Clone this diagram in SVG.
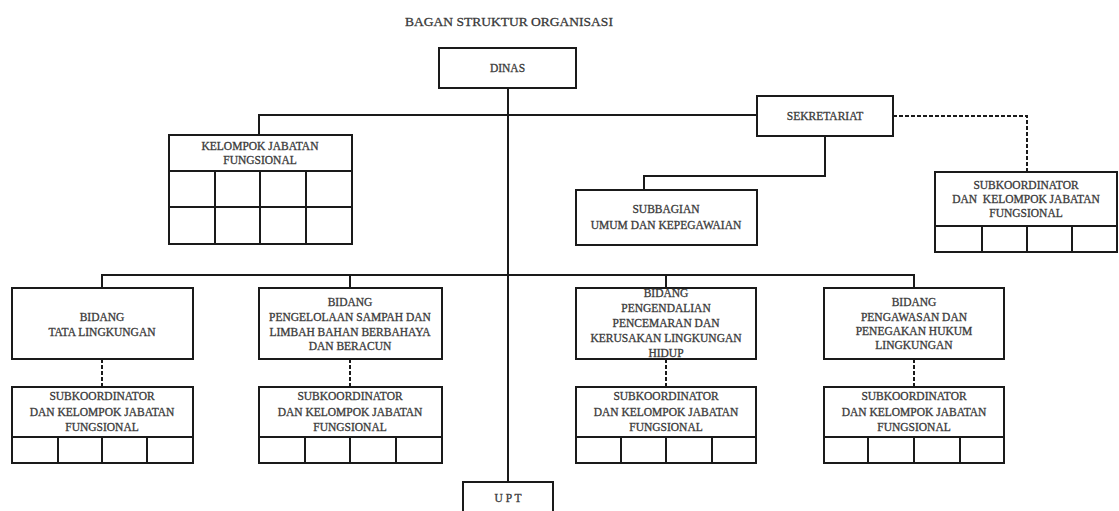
<svg xmlns="http://www.w3.org/2000/svg" width="1119" height="511" viewBox="0 0 1119 511">
<style>
.bg{fill:#ffffff}
.box{fill:#ffffff;stroke:#1a1a1a;stroke-width:2}
.ln{fill:none;stroke:#1a1a1a;stroke-width:2}
.ds{fill:none;stroke:#1a1a1a;stroke-width:2;stroke-dasharray:4 2}
.t{font-family:"Liberation Serif","Times New Roman",serif;font-size:11.5px;fill:#333;stroke:#444;stroke-width:0.3;text-anchor:middle;dominant-baseline:central}
.title{font-family:"Liberation Serif","Times New Roman",serif;font-size:13.5px;fill:#333;stroke:#444;stroke-width:0.3;text-anchor:middle;dominant-baseline:central}
</style>
<rect class="bg" x="0" y="0" width="1119" height="511"/>
<text class="title" x="509" y="21">BAGAN STRUKTUR ORGANISASI</text>

<g id="connectors">
<path class="ln" d="M508 88 V482"/>
<path class="ln" d="M259 135 V115 H757"/>
<path class="ln" d="M825 136 V176 H644 V190"/>
<path class="ds" d="M893 116 H1027 V172"/>
<path class="ln" d="M102 288 V275 H914 V288"/>
<path class="ln" d="M350 275 V288"/>
<path class="ln" d="M666 275 V288"/>
<path class="ds" d="M102 359 V387"/>
<path class="ds" d="M350 359 V387"/>
<path class="ds" d="M666 359 V387"/>
<path class="ds" d="M914 359 V387"/>
</g>

<g id="dinas">
<rect class="box" x="439" y="48" width="137" height="40"/>
<text class="t" x="507.5" y="68">DINAS</text>
</g>

<g id="kelompok-jabatan-fungsional">
<rect class="box" x="169" y="135" width="183" height="109"/>
<path class="ln" d="M169 171 H352 M169 207 H352 M215 171 V244 M260 171 V244 M306 171 V244"/>
<text class="t" x="260" y="146">KELOMPOK JABATAN</text>
<text class="t" x="260" y="160">FUNGSIONAL</text>
</g>

<g id="sekretariat">
<rect class="box" x="757" y="96" width="136" height="40"/>
<text class="t" x="825" y="116">SEKRETARIAT</text>
</g>

<g id="subbagian">
<rect class="box" x="576" y="190" width="181" height="55"/>
<text class="t" x="666" y="209">SUBBAGIAN</text>
<text class="t" x="666" y="225">UMUM DAN KEPEGAWAIAN</text>
</g>

<g id="subkoordinator-sekretariat">
<rect class="box" x="935" y="172" width="182" height="80"/>
<path class="ln" d="M935 226 H1117 M982 226 V252 M1027 226 V252 M1072 226 V252"/>
<text class="t" x="1026" y="185">SUBKOORDINATOR</text>
<text class="t" x="1026" y="199" xml:space="preserve">DAN  KELOMPOK JABATAN</text>
<text class="t" x="1026" y="213">FUNGSIONAL</text>
</g>

<g id="bidang-tata-lingkungan">
<rect class="box" x="12" y="288" width="181" height="71"/>
<text class="t" x="102" y="317">BIDANG</text>
<text class="t" x="102" y="332">TATA LINGKUNGAN</text>
</g>

<g id="bidang-pengelolaan-sampah">
<rect class="box" x="259" y="288" width="183" height="71"/>
<text class="t" x="350" y="302">BIDANG</text>
<text class="t" x="350" y="317">PENGELOLAAN SAMPAH DAN</text>
<text class="t" x="350" y="332">LIMBAH BAHAN BERBAHAYA</text>
<text class="t" x="350" y="346">DAN BERACUN</text>
</g>

<g id="bidang-pengendalian-pencemaran">
<rect class="box" x="576" y="288" width="180" height="71"/>
<text class="t" x="666" y="293">BIDANG</text>
<text class="t" x="666" y="308">PENGENDALIAN</text>
<text class="t" x="666" y="323">PENCEMARAN DAN</text>
<text class="t" x="666" y="338">KERUSAKAN LINGKUNGAN</text>
<text class="t" x="666" y="353">HIDUP</text>
</g>

<g id="bidang-pengawasan">
<rect class="box" x="824" y="288" width="180" height="71"/>
<text class="t" x="914" y="302">BIDANG</text>
<text class="t" x="914" y="317">PENGAWASAN DAN</text>
<text class="t" x="914" y="331">PENEGAKAN HUKUM</text>
<text class="t" x="914" y="345">LINGKUNGAN</text>
</g>

<g id="subkoordinator-1">
<rect class="box" x="12" y="387" width="181" height="76"/>
<path class="ln" d="M12 437 H193 M58 437 V463 M102 437 V463 M147 437 V463"/>
<text class="t" x="102" y="396">SUBKOORDINATOR</text>
<text class="t" x="102" y="412">DAN KELOMPOK JABATAN</text>
<text class="t" x="102" y="427">FUNGSIONAL</text>
</g>

<g id="subkoordinator-2">
<rect class="box" x="259" y="387" width="183" height="76"/>
<path class="ln" d="M259 437 H442 M305 437 V463 M350 437 V463 M396 437 V463"/>
<text class="t" x="350" y="396">SUBKOORDINATOR</text>
<text class="t" x="350" y="412">DAN KELOMPOK JABATAN</text>
<text class="t" x="350" y="427">FUNGSIONAL</text>
</g>

<g id="subkoordinator-3">
<rect class="box" x="576" y="387" width="180" height="76"/>
<path class="ln" d="M576 437 H756 M621 437 V463 M666 437 V463 M712 437 V463"/>
<text class="t" x="666" y="396">SUBKOORDINATOR</text>
<text class="t" x="666" y="412">DAN KELOMPOK JABATAN</text>
<text class="t" x="666" y="427">FUNGSIONAL</text>
</g>

<g id="subkoordinator-4">
<rect class="box" x="824" y="387" width="180" height="76"/>
<path class="ln" d="M824 437 H1004 M868 437 V463 M914 437 V463 M960 437 V463"/>
<text class="t" x="914" y="396">SUBKOORDINATOR</text>
<text class="t" x="914" y="412">DAN KELOMPOK JABATAN</text>
<text class="t" x="914" y="427">FUNGSIONAL</text>
</g>

<g id="upt">
<rect class="box" x="463" y="482" width="90" height="40"/>
<text class="t" x="508" y="498">U P T</text>
</g>
</svg>
